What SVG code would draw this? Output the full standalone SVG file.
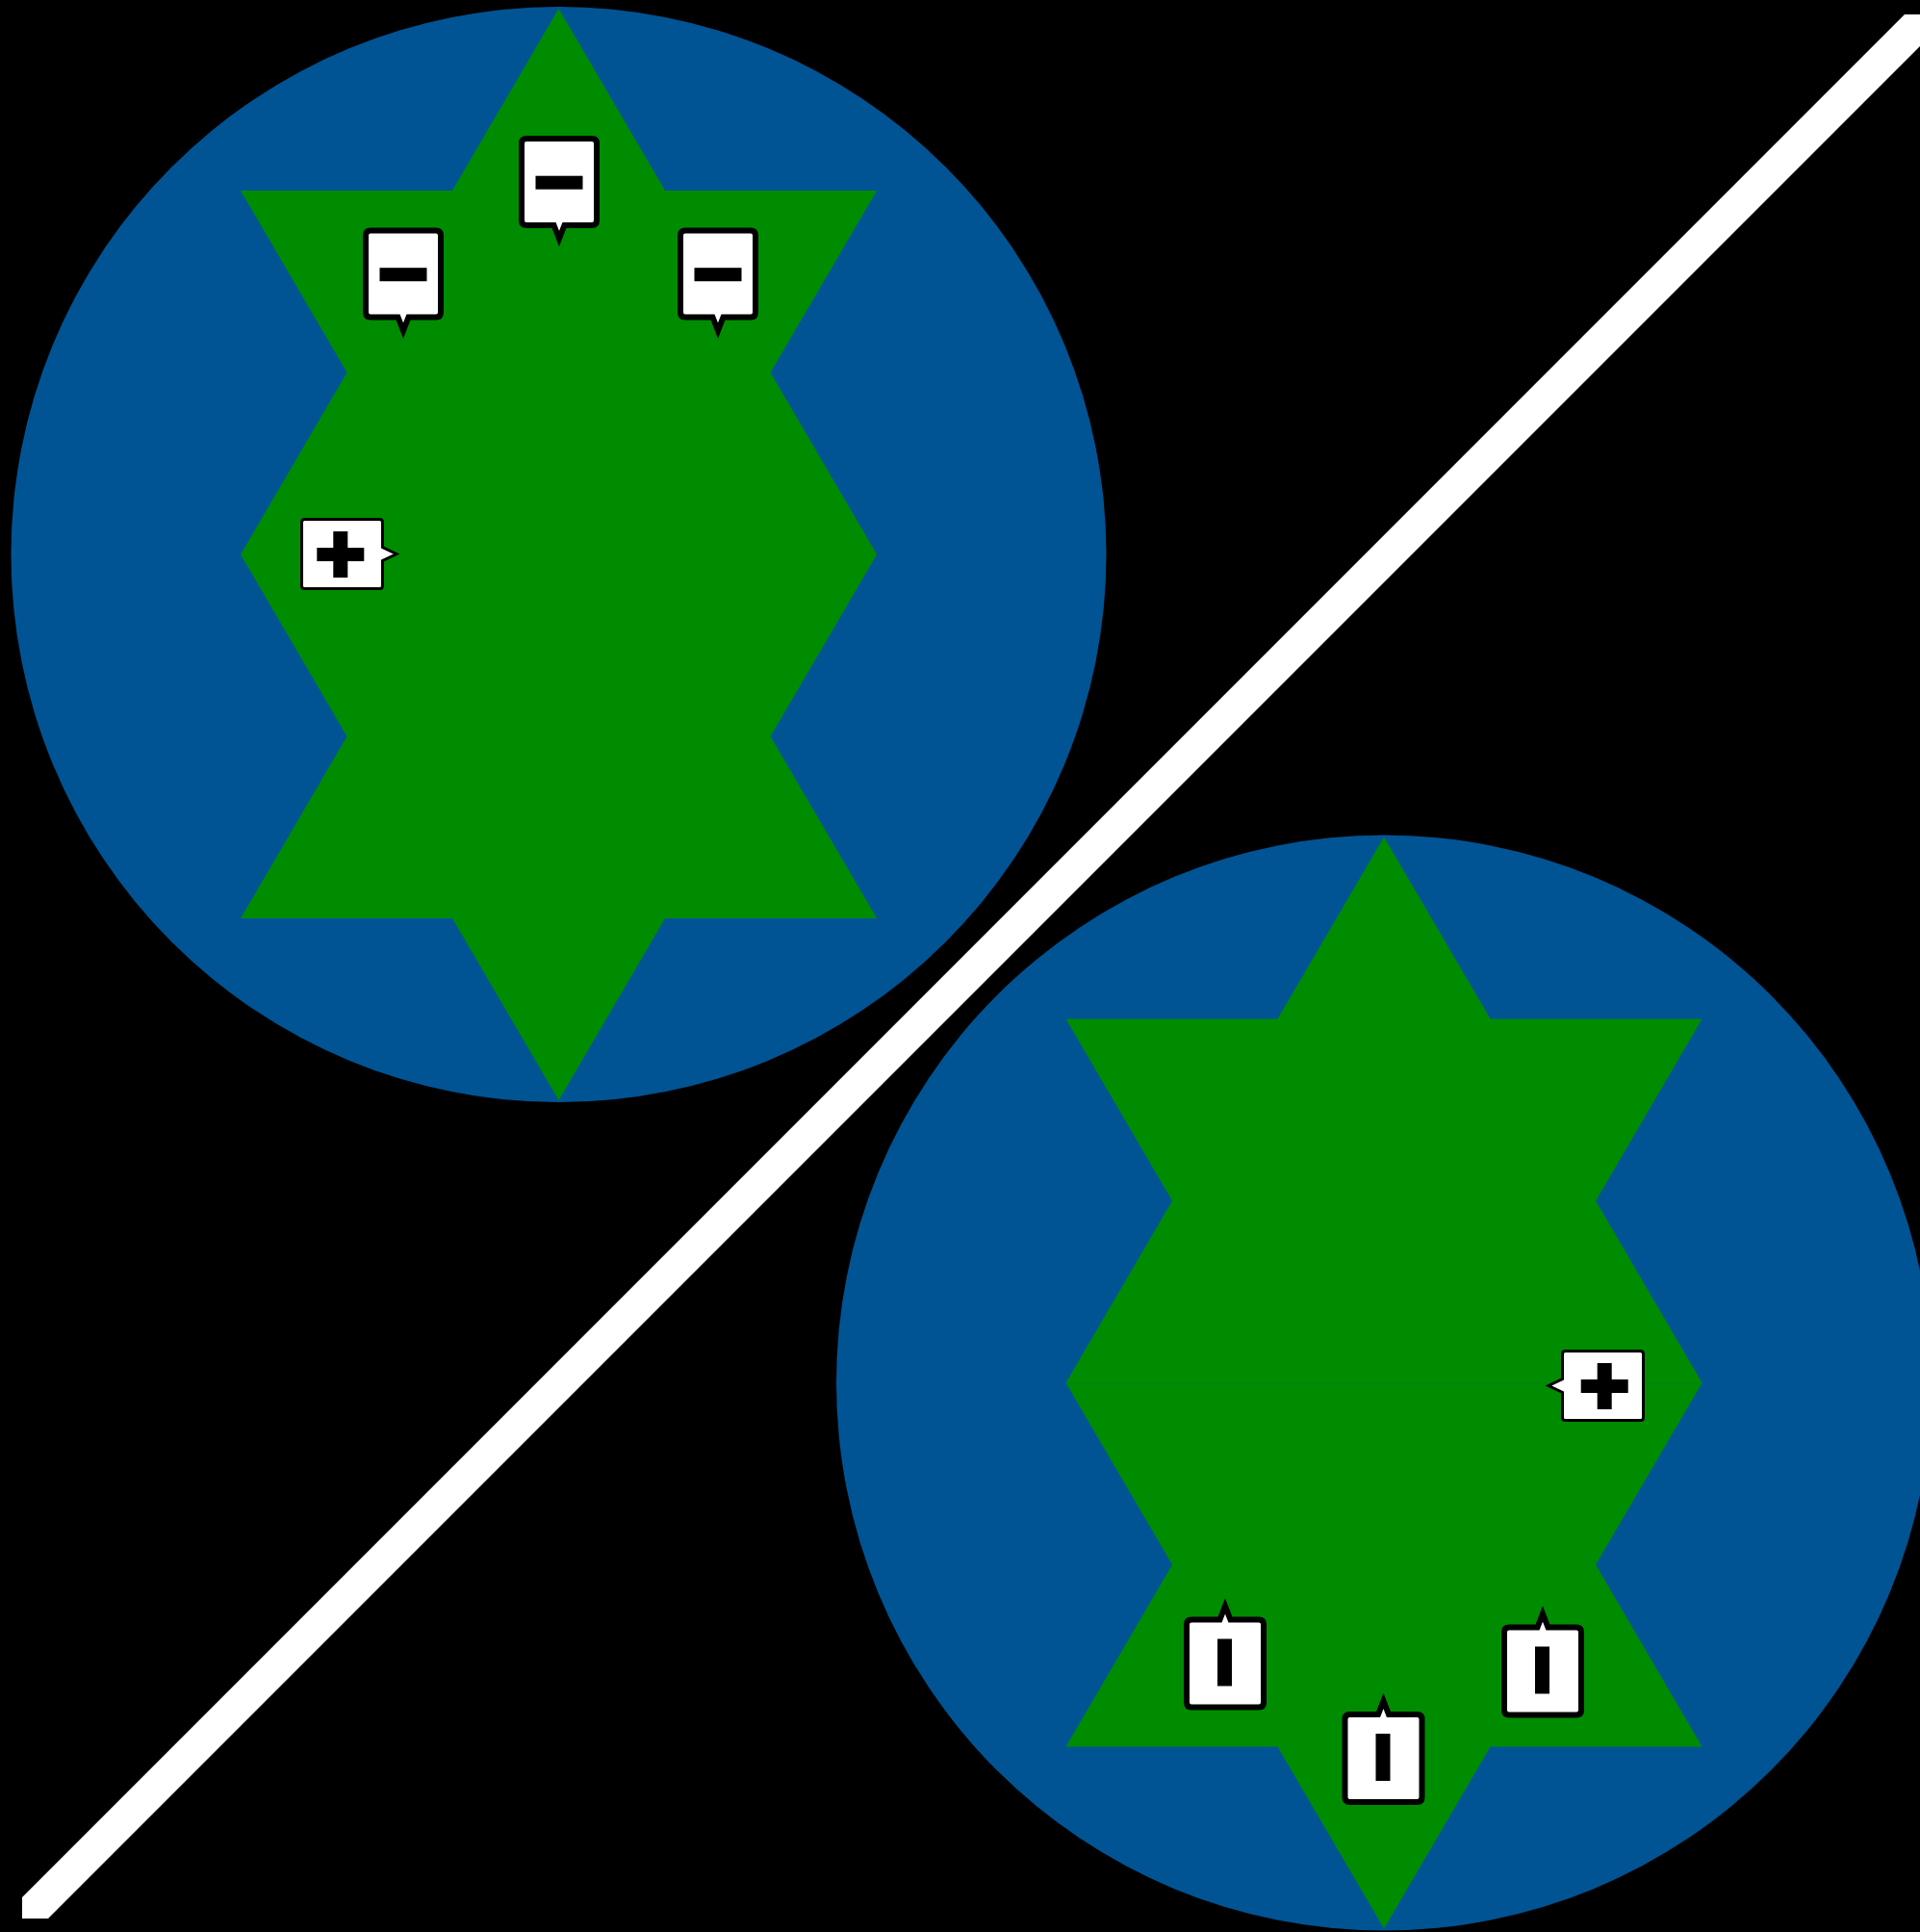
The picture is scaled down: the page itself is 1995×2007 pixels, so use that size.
<svg xmlns="http://www.w3.org/2000/svg" xmlns:xlink="http://www.w3.org/1999/xlink" width="1995" height="2007" viewBox="0 0 1995 2007">
  <style>
    .disc { fill: #005494; }
    .star { fill: #008C00; }
    .bubble { fill: #FFFFFF; stroke: #000000; stroke-linejoin: miter; }
    .thick { stroke-width: 6; }
    .thin { stroke-width: 3; }
    .glyph { fill: #000000; }
  </style>
  <defs>
    <g id="minus-down">
      <path class="bubble thick" d="M-34,-45 H34 Q39,-45 39,-40 V40 Q39,45 34,45 H5.5 L0,59 L-5.5,45 H-34 Q-39,45 -39,40 V-40 Q-39,-45 -34,-45 Z"/>
      <rect class="glyph" x="-24.5" y="-6.3" width="49" height="14"/>
    </g>
    <g id="bar-up">
      <path class="bubble thick" d="M-35,45.5 H35 Q40,45.5 40,40.5 V-40.5 Q40,-45.5 35,-45.5 H5.5 L0,-59.5 L-5.5,-45.5 H-35 Q-40,-45.5 -40,-40.5 V40.5 Q-40,45.5 -35,45.5 Z"/>
      <rect class="glyph" x="-8" y="-25.5" width="15" height="49"/>
    </g>
    <g id="plus-right">
      <path class="bubble thin" d="M-39,-36 H39 Q42,-36 42,-33 V-7 L56.5,0 L42,7 V33 Q42,36 39,36 H-39 Q-42,36 -42,33 V-33 Q-42,-36 -39,-36 Z"/>
      <rect class="glyph" x="-9.2" y="-23.5" width="15" height="48"/>
      <rect class="glyph" x="-26.2" y="-6.5" width="49" height="14"/>
    </g>
  </defs>

  <rect id="background" x="0" y="0" width="1995" height="2007" fill="#000000"/>

  <g id="panel-top-left">
    <circle class="disc" cx="580.5" cy="576" r="569"/>
    <polygon class="star" points="580.5,9 691,198 911,198 800.5,387 911,576 800.5,765 911,954 691,954 580.5,1143 470,954 250,954 360.5,765 250,576 360.5,387 250,198 470,198"/>
    <g id="callout-tl-minus-left"><use xlink:href="#minus-down" href="#minus-down" transform="translate(419,284.5)"/></g>
    <g id="callout-tl-minus-center"><use xlink:href="#minus-down" href="#minus-down" transform="translate(581,189)"/></g>
    <g id="callout-tl-minus-right"><use xlink:href="#minus-down" href="#minus-down" transform="translate(746,284.5)"/></g>
    <g id="callout-tl-plus"><use xlink:href="#plus-right" href="#plus-right" transform="translate(355.5,575.5)"/></g>
  </g>

  <g id="panel-bottom-right">
    <circle class="disc" cx="1438" cy="1436.5" r="569"/>
    <polygon class="star" points="1438,869.5 1548.5,1058.5 1768.5,1058.5 1658,1247.5 1768.5,1436.5 1107.5,1436.5 1218,1247.5 1107.5,1058.5 1327.5,1058.5"/>
    <polygon class="star" points="1768.5,1436.5 1658,1625.5 1768.5,1814.5 1548.5,1814.5 1438,2003.5 1327.5,1814.5 1107.5,1814.5 1218,1625.5 1107.5,1436.5"/>
    <g id="callout-br-plus"><use xlink:href="#plus-right" href="#plus-right" transform="translate(1665.5,1439.5) scale(-1,1)"/></g>
    <g id="callout-br-bar-left"><use xlink:href="#bar-up" href="#bar-up" transform="translate(1273,1728)"/></g>
    <g id="callout-br-bar-center"><use xlink:href="#bar-up" href="#bar-up" transform="translate(1437.5,1826.5)"/></g>
    <g id="callout-br-bar-right"><use xlink:href="#bar-up" href="#bar-up" transform="translate(1603,1736)"/></g>
  </g>

  <g id="connectors">
    <polygon id="divider" fill="#FFFFFF" points="23,1971 1979,15 1995,15 1995,48 50,1993 23,1993"/>
  </g>
</svg>
